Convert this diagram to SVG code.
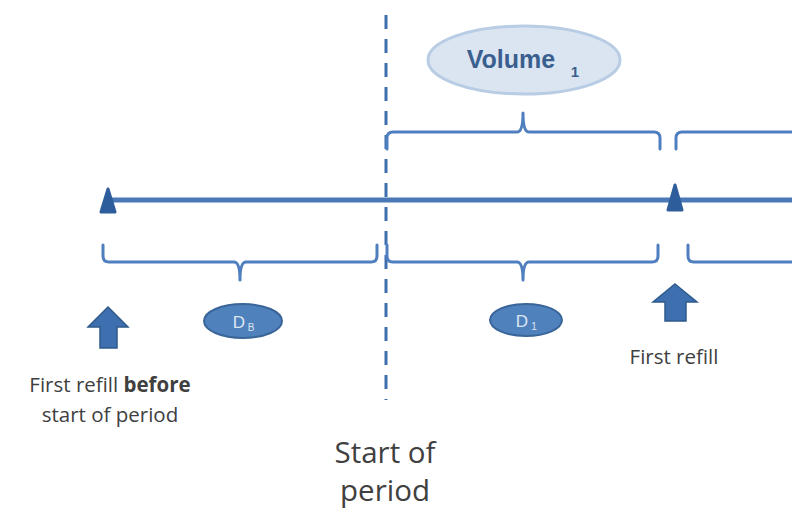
<svg xmlns="http://www.w3.org/2000/svg" width="792" height="517" viewBox="0 0 792 517">
<style>
.br{fill:none;stroke:#4f7fbf;stroke-width:3;stroke-linecap:round;stroke-linejoin:round}
.lbl{font-family:"Open Sans","Liberation Sans",sans-serif;fill:#404040}
.tri{fill:#2e5d9b;stroke:#2e5d9b;stroke-width:3;stroke-linejoin:round}
.arr{fill:#3e6fae;stroke:#2f5a8e;stroke-width:1.5}
.dot{fill:#4f81bd;stroke:#3a6599;stroke-width:2}
</style>
<rect width="792" height="517" fill="#ffffff"/>
<g id="connectors">
<line x1="105" y1="200" x2="792" y2="200" stroke="#4a78b6" stroke-width="5"/>
<line x1="386" y1="15" x2="386" y2="400" stroke="#3f6fae" stroke-width="3" stroke-dasharray="14,10"/>
<path class="br" d="M387,149 L387,138 Q387,132 393,132 L517,132 Q523,132 523,113 Q523,132 529,132 L654,132 Q660,132 660,138 L660,149"/>
<path class="br" d="M676,149 L676,138 Q676,132 682,132 L792,132"/>
<path class="br" d="M103,245 L103,256 Q103,262 109,262 L234,262 Q240,262 240,280 Q240,262 246,262 L371,262 Q377,262 377,256 L377,245"/>
<path class="br" d="M387,245 L387,256 Q387,262 393,262 L517,262 Q523,262 523,280 Q523,262 529,262 L652,262 Q658,262 658,256 L658,245"/>
<path class="br" d="M688,245 L688,256 Q688,262 694,262 L792,262"/>
</g>
<g id="marker-left"><polygon class="tri" points="108,189 101,212 115,212"/></g>
<g id="marker-right"><polygon class="tri" points="675,185 668,210 682,210"/></g>
<g id="volume1">
<ellipse cx="524" cy="60" rx="96" ry="34" fill="#dbe5f1" stroke="#b8cce4" stroke-width="3"/>
<text x="511" y="68" text-anchor="middle" font-family="Liberation Sans,Arial,sans-serif" font-weight="bold" font-size="25" fill="#3a5f8f">Volume</text>
<text x="575" y="77" text-anchor="middle" font-family="Liberation Sans,Arial,sans-serif" font-weight="bold" font-size="15" fill="#3a5f8f">1</text>
</g>
<g id="dB">
<ellipse class="dot" cx="243" cy="321" rx="39" ry="17"/>
<text x="239" y="328" text-anchor="middle" font-family="Liberation Sans,Arial,sans-serif" font-size="17" fill="#dce6f2">D</text>
<text x="251" y="331" text-anchor="middle" font-family="Liberation Sans,Arial,sans-serif" font-size="10" fill="#dce6f2">B</text>
</g>
<g id="d1">
<ellipse class="dot" cx="526" cy="320" rx="36" ry="16"/>
<text x="522" y="327" text-anchor="middle" font-family="Liberation Sans,Arial,sans-serif" font-size="17" fill="#dce6f2">D</text>
<text x="534" y="330" text-anchor="middle" font-family="Liberation Sans,Arial,sans-serif" font-size="10" fill="#dce6f2">1</text>
</g>
<g id="arrow-left"><polygon class="arr" points="108,307 128,327 117,327 117,348 100,348 100,327 88,327"/></g>
<g id="arrow-right"><polygon class="arr" points="675,284 697,302 686,302 686,321 665,321 665,302 653,302"/></g>
<g id="label-before">
<text class="lbl" x="110" y="392" text-anchor="middle" font-size="20.5">First refill <tspan font-weight="bold">before</tspan></text>
<text class="lbl" x="110" y="422" text-anchor="middle" font-size="20.5">start of period</text>
</g>
<g id="label-first"><text class="lbl" x="674" y="364" text-anchor="middle" font-size="20.5">First refill</text></g>
<g id="label-start">
<text class="lbl" x="385" y="463" text-anchor="middle" font-size="29.5" fill="#262626">Start of</text>
<text class="lbl" x="385" y="501" text-anchor="middle" font-size="29.5" fill="#262626">period</text>
</g>
</svg>
